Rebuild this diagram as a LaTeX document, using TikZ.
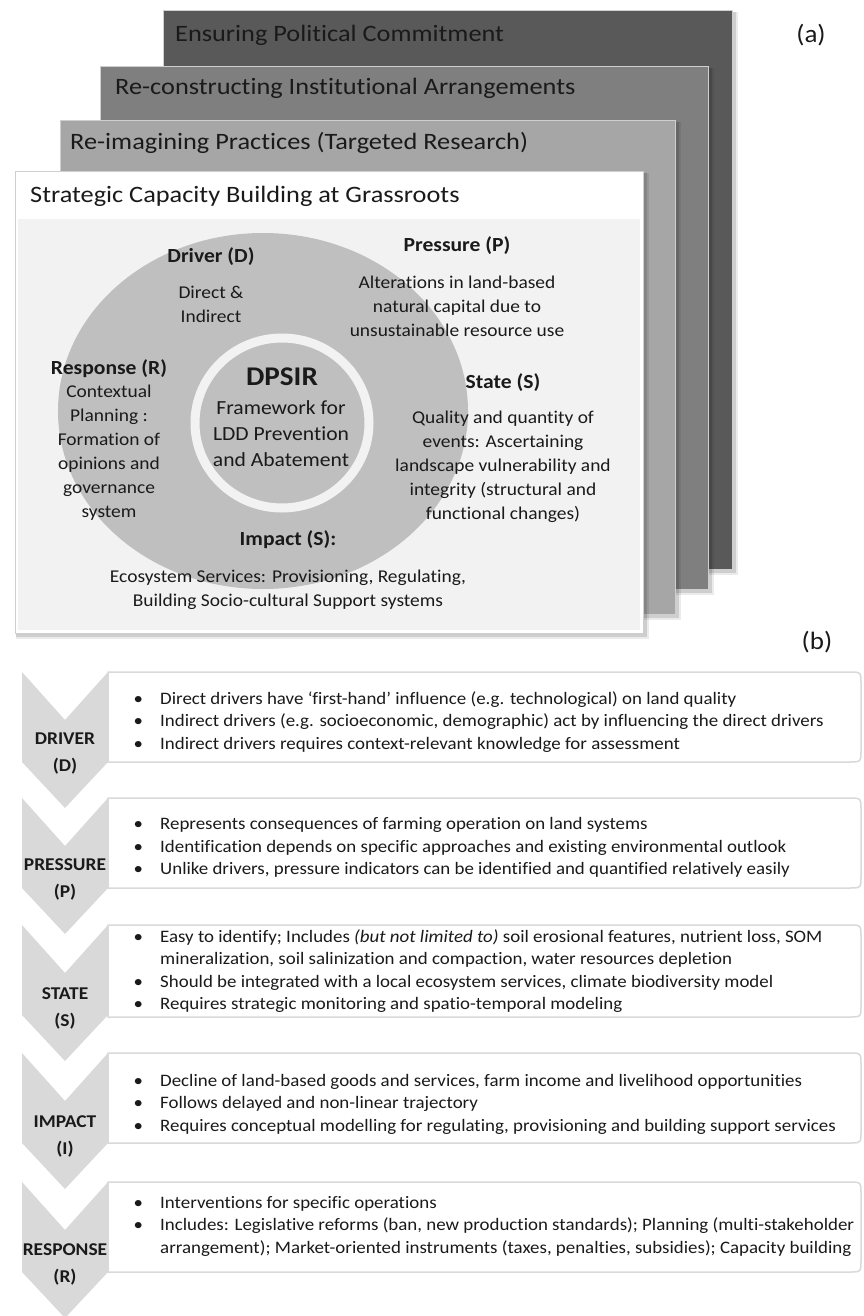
\documentclass[tikz,border=0pt]{standalone}
\usepackage{fontspec}
\setmainfont{Carlito}[Ligatures=NoCommon]
\newfontfamily\widefont{Carlito}[FakeStretch=1.08, Ligatures=NoCommon]
\newfontfamily\titlefont{Carlito}[FakeStretch=1.12, Ligatures=NoCommon]
\usetikzlibrary{calc}
\definecolor{cardD}{HTML}{595959}
\definecolor{cardC}{HTML}{7F7F7F}
\definecolor{cardB}{HTML}{A6A6A6}
\definecolor{cardborder}{HTML}{CFCFCF}
\definecolor{panel}{HTML}{F2F2F2}
\definecolor{discgrey}{HTML}{BFBFBF}
\definecolor{chev}{HTML}{D9D9D9}
\definecolor{boxline}{HTML}{D9D9D9}
\definecolor{ink}{HTML}{1A1A1A}
\tikzset{
  card/.style={draw=cardborder, line width=1pt},
  cardtitle/.style={anchor=west, inner sep=0pt, text=ink, font=\titlefont\fontsize{23.5}{28}\selectfont},
  ctext/.style={align=center, inner sep=0pt, text=ink, font=\widefont\fontsize{18}{24}\selectfont},
  chead/.style={align=center, inner sep=0pt, text=ink, font=\widefont\bfseries\fontsize{20}{24}\selectfont},
  coretext/.style={align=center, inner sep=0pt, text=ink, font=\widefont\fontsize{20}{26}\selectfont},
  panellabel/.style={inner sep=0pt, text=ink, font=\widefont\fontsize{25}{30}\selectfont},
  chevron/.style={fill=chev},
  listbox/.style={fill=white, draw=boxline, line width=1.5pt},
  chevlabel/.style={align=center, inner sep=0pt, text=ink, font=\widefont\bfseries\fontsize{18}{27}\selectfont},
  bullets/.style={anchor=west, inner sep=0pt, text=ink, font=\widefont\fontsize{17.5}{22.5}\selectfont},
}
\newcommand\drawcard[5]{%
  \fill[black,opacity=.08] (#1+1,#2+1) rectangle (#3+6,#4+6);
  \fill[black,opacity=.12] (#1+1,#2+1) rectangle (#3+3.5,#4+3.5);
  \filldraw[card, fill=#5] (#1,#2) rectangle (#3,#4);}
\newcommand\chevshape[1]{%
  \fill[chevron] (22,#1) -- (65,#1+48) -- (108,#1) -- (108,#1+90) -- (65,#1+136) -- (22,#1+90) -- cycle;}
\newcommand\listshape[2]{%
  \draw[listbox] (108,#1) -- (849,#1) .. controls (861,#1) .. (861,#1+12) -- (861,#2-12) .. controls (861,#2) .. (849,#2) -- (108,#2) -- cycle;}
\newcommand\bl{\makebox[27pt][l]{\hspace*{0.5pt}\textbullet}}
\newcommand\ind{\hspace*{27pt}}
\begin{document}
\begin{tikzpicture}[x=1pt,y=-1pt]
\useasboundingbox (0,0) rectangle (863,1316);
\fill[white] (0,0) rectangle (863,1316);

% ---- (a) stacked cards
\drawcard{163}{11}{732}{569}{cardD}
\node[cardtitle] (tD) at (175,35) {Ensuring Political Commitment};
\drawcard{100}{67}{708}{589}{cardC}
\node[cardtitle] (tC) at (115,88) {Re-constructing Institutional Arrangements};
\drawcard{60}{121}{675}{614}{cardB}
\node[cardtitle] (tB) at (70,143) {Re-imagining Practices (Targeted Research)};
\drawcard{15}{172}{643}{633}{white}
\fill[panel] (18,219) rectangle (640,630);
\node[cardtitle] (tA) at (30,196) {Strategic Capacity Building at Grassroots};

\node[panellabel] (la) at (811,35) {(a)};
\node[panellabel] (lb) at (817,642) {(b)};

% ---- DPSIR disc
\fill[discgrey] (263,411) ellipse [x radius=205pt, y radius=178pt];
\draw[panel, line width=9pt, fill=discgrey] (282,423) ellipse [x radius=87pt, y radius=85pt];

\node[chead] (dh) at (211,257) {Driver (D)};
\node[ctext] (dt) at (211,304) {Direct \&\\Indirect};
\node[chead] (ph) at (457,246) {Pressure (P)};
\node[ctext] (pt) at (457,306.5) {Alterations in land-based\\natural capital due to\\unsustainable resource use};
\node[chead] (rh) at (109,369) {Response (R)};
\node[ctext] (rt) at (109,453) {Contextual\\Planning :\\Formation of\\opinions and\\governance\\system};
\node[chead] (sh) at (503,383) {State (S)};
\node[ctext] (st) at (503,467) {Quality and quantity of\\events: Ascertaining\\landscape vulnerability and\\integrity (structural and\\functional changes)};
\node[chead] (ih) at (288,540) {Impact (S):};
\node[ctext] (it) at (288,589.5) {Ecosystem Services: Provisioning, Regulating,\\Building Socio-cultural Support systems};
\node[align=center, inner sep=0pt, text=ink, font=\widefont\bfseries\fontsize{27}{30}\selectfont] (core) at (282,377) {DPSIR};
\node[coretext] (coret) at (281,434) {Framework for\\LDD Prevention\\and Abatement};

% ---- (b) chevron list
\chevshape{672}
\listshape{672}{762}
\node[chevlabel] (cD) at (65,753.5) {DRIVER\\(D)};
\node[bullets] (bD) at (133,722) {\begin{tabular}{@{}l@{}}
\bl Direct drivers have ‘first-hand’ influence (e.g. technological) on land quality\\
\bl Indirect drivers (e.g. socioeconomic, demographic) act by influencing the direct drivers\\
\bl Indirect drivers requires context-relevant knowledge for assessment
\end{tabular}};

\chevshape{798}
\listshape{798}{888}
\node[chevlabel] (cP) at (65,879.5) {PRESSURE\\(P)};
\node[bullets] (bP) at (133,847.5) {\begin{tabular}{@{}l@{}}
\bl Represents consequences of farming operation on land systems\\
\bl Identification depends on specific approaches and existing environmental outlook\\
\bl Unlike drivers, pressure indicators can be identified and quantified relatively easily
\end{tabular}};

\chevshape{925}
\listshape{925}{1017}
\node[chevlabel] (cS) at (65,1008) {STATE\\(S)};
\node[bullets] (bS) at (133,971.5) {\begin{tabular}{@{}l@{}}
\bl Easy to identify; Includes \textit{(but not limited to)} soil erosional features, nutrient loss, SOM\\
\ind mineralization, soil salinization and compaction, water resources depletion\\
\bl Should be integrated with a local ecosystem services, climate biodiversity model\\
\bl Requires strategic monitoring and spatio-temporal modeling
\end{tabular}};

\chevshape{1053}
\listshape{1053}{1143}
\node[chevlabel] (cI) at (65,1136) {IMPACT\\(I)};
\node[bullets] (bI) at (133,1104) {\begin{tabular}{@{}l@{}}
\bl Decline of land-based goods and services, farm income and livelihood opportunities\\
\bl Follows delayed and non-linear trajectory\\
\bl Requires conceptual modelling for regulating, provisioning and building support services
\end{tabular}};

\chevshape{1182}
\listshape{1182}{1272}
\node[chevlabel] (cR) at (65,1264) {RESPONSE\\(R)};
\node[bullets] (bR) at (133,1226) {\begin{tabular}{@{}l@{}}
\bl Interventions for specific operations\\
\bl Includes: Legislative reforms (ban, new production standards); Planning (multi-stakeholder\\
\ind arrangement); Market-oriented instruments (taxes, penalties, subsidies); Capacity building
\end{tabular}};
\end{tikzpicture}
\end{document}
